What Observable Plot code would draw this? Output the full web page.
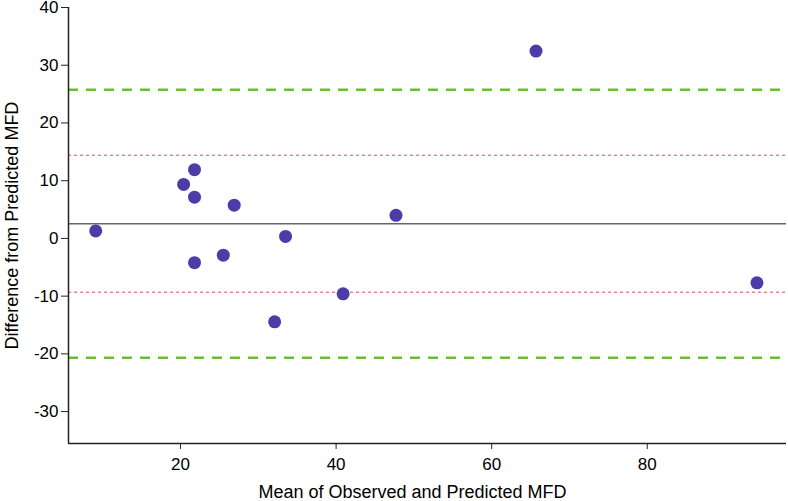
<!DOCTYPE html>
<html>
<head>
<meta charset="utf-8">
<script src="https://cdn.jsdelivr.net/npm/d3@7"></script>
<script src="https://cdn.jsdelivr.net/npm/@observablehq/plot@0.6"></script>
<style>
  html, body { margin: 0; padding: 0; background: #fff; }
  #chart svg { display: block; }
</style>
</head>
<body>
<div id="chart"></div>
<script>
// Data
const meanMFD = [9.1, 20.4, 21.8, 21.8, 26.9, 33.5, 21.8, 25.5, 40.9, 47.7, 65.7, 94.1, 32.1];
const diffMFD = [1.3, 9.35, 11.9, 7.15, 5.75, 0.35, -4.2, -2.9, -9.6, 4.0, 32.45, -7.7, -14.45];
const bias = [2.54];
const innerLimits = [14.41, -9.32];
const outerLimits = [25.77, -20.67];
const xTicks = [20, 40, 60, 80];
const yTicks = [-30, -20, -10, 0, 10, 20, 30, 40];
const xDomain = [5.6, 97.9];
const yDomain = [-35.53, 40];
const xTitle = ["Mean of Observed and Predicted MFD"];
const yTitle = ["Difference from Predicted MFD"];

const points = meanMFD.map((m, i) => ({mean: m, diff: diffMFD[i]}));
const fmt = d => String(d);

const chart = Plot.plot({
  width: 788,
  height: 501,
  marginLeft: 68,
  marginRight: 2,
  marginTop: 7,
  marginBottom: 58,
  style: {fontFamily: "'Liberation Sans', Arial, sans-serif", fontSize: "17px", color: "#000", background: "#fff"},
  x: {domain: xDomain},
  y: {domain: yDomain},
  marks: [
    Plot.ruleY(outerLimits, {stroke: "#6abf2e", strokeWidth: 2.5, strokeDasharray: "10,8"}),
    Plot.ruleY(innerLimits, {stroke: "#e0484c", strokeWidth: 1, strokeDasharray: "3,3"}),
    Plot.ruleY(bias, {stroke: "#666", strokeWidth: 1.5}),
    Plot.dot(points, {x: "mean", y: "diff", r: 6.5, fill: "#4b3da8", stroke: "none"}),
    Plot.ruleX([xDomain[0]], {stroke: "#222", strokeWidth: 1.5}),
    Plot.ruleY([yDomain[0]], {stroke: "#222", strokeWidth: 1.5}),
    Plot.axisX({ticks: xTicks, tickFormat: fmt, tickSize: 6, tickPadding: 8, label: null, fontSize: 17, stroke: "#222"}),
    Plot.axisY({ticks: yTicks, tickFormat: fmt, tickSize: 7, tickPadding: 3, label: null, fontSize: 17, stroke: "#222"}),
    Plot.text(xTitle, {text: d => d, frameAnchor: "bottom", textAnchor: "middle", lineAnchor: "middle", dx: -15, dy: 49, fontSize: 18, fill: "#000"}),
    Plot.text(yTitle, {text: d => d, frameAnchor: "left", textAnchor: "middle", lineAnchor: "middle", rotate: -90, dx: -56, fontSize: 18, fill: "#000"})
  ]
});
document.getElementById("chart").appendChild(chart);
</script>
</body>
</html>
